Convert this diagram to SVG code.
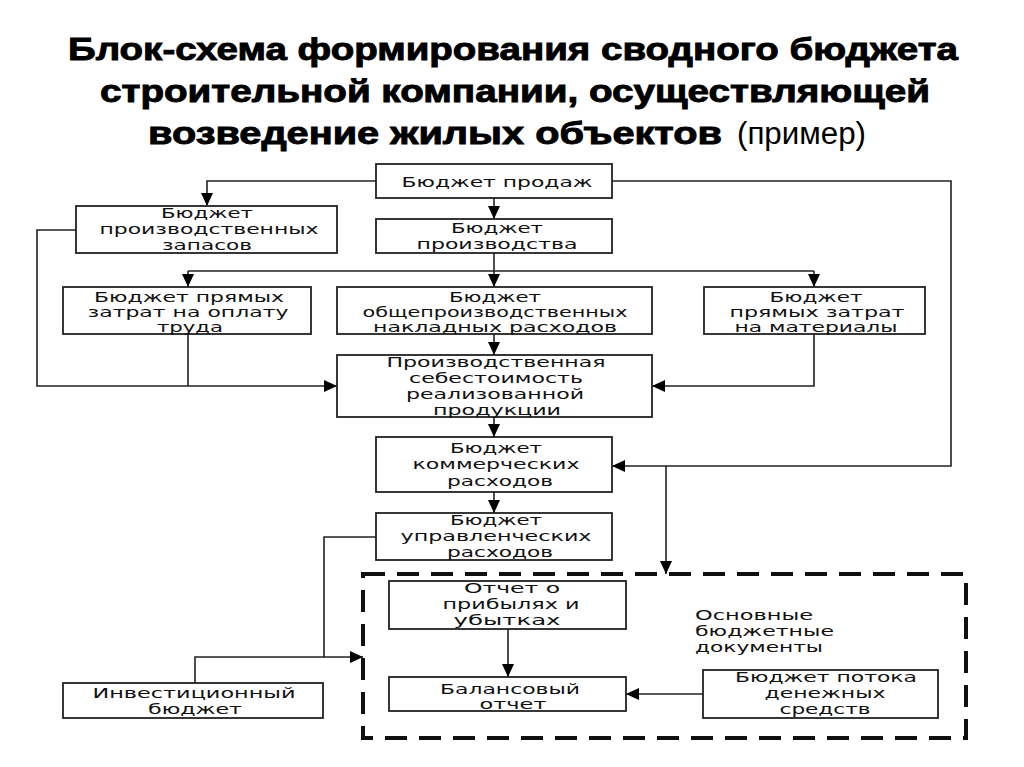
<svg xmlns="http://www.w3.org/2000/svg" width="1024" height="767" viewBox="0 0 1024 767">
<style>
.bg{fill:#fff}
.box{fill:#fff;stroke:#222;stroke-width:1.8}
.t{font-family:"DejaVu Sans",Verdana,sans-serif;font-size:14px;fill:#111;text-anchor:middle}
.tl{font-family:"DejaVu Sans",Verdana,sans-serif;font-size:14px;fill:#111}
.ttl{font-family:"Liberation Sans",Arial,sans-serif;font-size:31px;font-weight:bold;fill:#000;stroke:#000;stroke-width:0.9}
.ttn{font-family:"Liberation Sans",Arial,sans-serif;font-size:31px;fill:#000}
.c{fill:none;stroke:#222;stroke-width:1.6}
.a{marker-end:url(#ah)}
.dash{fill:none;stroke:#111;stroke-width:4;stroke-dasharray:22 12}
</style>
<defs>
<marker id="ah" markerUnits="userSpaceOnUse" markerWidth="14" markerHeight="14" viewBox="0 0 14 14" refX="13" refY="7" orient="auto">
<path d="M0,1 L13,7 L0,13 Z" fill="#000"/>
</marker>
</defs>
<rect class="bg" width="1024" height="767"/>
<g id="title">
<text class="ttl" x="513" y="60" text-anchor="middle" textLength="890" lengthAdjust="spacingAndGlyphs">Блок-схема формирования сводного бюджета</text>
<text class="ttl" x="515" y="102" text-anchor="middle" textLength="830" lengthAdjust="spacingAndGlyphs">строительной компании, осуществляющей</text>
<text class="ttl" x="148" y="144" textLength="574" lengthAdjust="spacingAndGlyphs">возведение жилых объектов</text>
<text class="ttn" x="737" y="144" textLength="129" lengthAdjust="spacingAndGlyphs">(пример)</text>
</g>
<g id="connectors">
<path class="c a" d="M376,181 H207 V206"/>
<path class="c a" d="M494,198 V219"/>
<path class="c a" d="M612,181 H951 V466 H612"/>
<path class="c a" d="M494,253 V287"/>
<path class="c" d="M188,271 H814"/>
<path class="c a" d="M188,271 V287"/>
<path class="c a" d="M814,271 V287"/>
<path class="c a" d="M76,230 H37 V386 H337"/>
<path class="c" d="M188,334 V386"/>
<path class="c a" d="M494,334 V355"/>
<path class="c a" d="M814,334 V386 H652"/>
<path class="c a" d="M494,417 V437"/>
<path class="c a" d="M494,492 V513"/>
<path class="c a" d="M666,466 V574"/>
<path class="c a" d="M376,537 H324 V657 H363"/>
<path class="c" d="M195,683 V657 H324"/>
<path class="c a" d="M508,629 V677"/>
<path class="c a" d="M703,694 H626"/>
</g>
<g id="docs-frame">
<rect class="dash" x="363" y="574" width="603" height="164"/>
<text class="tl" x="695" y="620" textLength="118" lengthAdjust="spacingAndGlyphs">Основные</text>
<text class="tl" x="695" y="636" textLength="139" lengthAdjust="spacingAndGlyphs">бюджетные</text>
<text class="tl" x="695" y="652" textLength="128" lengthAdjust="spacingAndGlyphs">документы</text>
</g>
<g id="sales">
<rect class="box" x="376" y="164" width="236" height="34"/>
<text class="t" x="497" y="187" textLength="191" lengthAdjust="spacingAndGlyphs">Бюджет продаж</text>
</g>
<g id="inventory">
<rect class="box" x="76" y="206" width="261" height="47"/>
<text class="t" x="207" y="218" textLength="92" lengthAdjust="spacingAndGlyphs">Бюджет</text>
<text class="t" x="209" y="234" textLength="219" lengthAdjust="spacingAndGlyphs">производственных</text>
<text class="t" x="207" y="250" textLength="90" lengthAdjust="spacingAndGlyphs">запасов</text>
</g>
<g id="production">
<rect class="box" x="376" y="219" width="236" height="34"/>
<text class="t" x="497" y="233" textLength="92" lengthAdjust="spacingAndGlyphs">Бюджет</text>
<text class="t" x="497" y="249" textLength="161" lengthAdjust="spacingAndGlyphs">производства</text>
</g>
<g id="labor">
<rect class="box" x="63" y="287" width="248" height="47"/>
<text class="t" x="189" y="302" textLength="190" lengthAdjust="spacingAndGlyphs">Бюджет прямых</text>
<text class="t" x="188" y="317" textLength="201" lengthAdjust="spacingAndGlyphs">затрат на оплату</text>
<text class="t" x="190" y="332" textLength="66" lengthAdjust="spacingAndGlyphs">труда</text>
</g>
<g id="overhead">
<rect class="box" x="337" y="287" width="315" height="47"/>
<text class="t" x="495" y="302" textLength="92" lengthAdjust="spacingAndGlyphs">Бюджет</text>
<text class="t" x="495" y="317" textLength="265" lengthAdjust="spacingAndGlyphs">общепроизводственных</text>
<text class="t" x="495" y="332" textLength="244" lengthAdjust="spacingAndGlyphs">накладных расходов</text>
</g>
<g id="materials">
<rect class="box" x="704" y="287" width="221" height="47"/>
<text class="t" x="816" y="302" textLength="93" lengthAdjust="spacingAndGlyphs">Бюджет</text>
<text class="t" x="817" y="317" textLength="175" lengthAdjust="spacingAndGlyphs">прямых затрат</text>
<text class="t" x="816" y="332" textLength="163" lengthAdjust="spacingAndGlyphs">на материалы</text>
</g>
<g id="cost">
<rect class="box" x="337" y="355" width="315" height="62"/>
<text class="t" x="496" y="367" textLength="219" lengthAdjust="spacingAndGlyphs">Производственная</text>
<text class="t" x="496" y="383" textLength="174" lengthAdjust="spacingAndGlyphs">себестоимость</text>
<text class="t" x="495" y="399" textLength="178" lengthAdjust="spacingAndGlyphs">реализованной</text>
<text class="t" x="497" y="415" textLength="128" lengthAdjust="spacingAndGlyphs">продукции</text>
</g>
<g id="commercial">
<rect class="box" x="376" y="437" width="236" height="55"/>
<text class="t" x="496" y="453" textLength="92" lengthAdjust="spacingAndGlyphs">Бюджет</text>
<text class="t" x="496" y="469" textLength="167" lengthAdjust="spacingAndGlyphs">коммерческих</text>
<text class="t" x="500" y="486" textLength="106" lengthAdjust="spacingAndGlyphs">расходов</text>
</g>
<g id="admin">
<rect class="box" x="376" y="513" width="236" height="47"/>
<text class="t" x="496" y="525" textLength="92" lengthAdjust="spacingAndGlyphs">Бюджет</text>
<text class="t" x="496" y="541" textLength="191" lengthAdjust="spacingAndGlyphs">управленческих</text>
<text class="t" x="500" y="557" textLength="106" lengthAdjust="spacingAndGlyphs">расходов</text>
</g>
<g id="pnl">
<rect class="box" x="389" y="581" width="237" height="48"/>
<text class="t" x="512" y="593" textLength="96" lengthAdjust="spacingAndGlyphs">Отчет о</text>
<text class="t" x="511" y="609" textLength="137" lengthAdjust="spacingAndGlyphs">прибылях и</text>
<text class="t" x="507" y="625" textLength="107" lengthAdjust="spacingAndGlyphs">убытках</text>
</g>
<g id="balance">
<rect class="box" x="389" y="677" width="237" height="34"/>
<text class="t" x="510" y="694" textLength="140" lengthAdjust="spacingAndGlyphs">Балансовый</text>
<text class="t" x="513" y="709" textLength="67" lengthAdjust="spacingAndGlyphs">отчет</text>
</g>
<g id="cashflow">
<rect class="box" x="703" y="670" width="235" height="48"/>
<text class="t" x="826" y="682" textLength="182" lengthAdjust="spacingAndGlyphs">Бюджет потока</text>
<text class="t" x="825" y="698" textLength="121" lengthAdjust="spacingAndGlyphs">денежных</text>
<text class="t" x="825" y="714" textLength="91" lengthAdjust="spacingAndGlyphs">средств</text>
</g>
<g id="investment">
<rect class="box" x="63" y="683" width="260" height="35"/>
<text class="t" x="194" y="698" textLength="203" lengthAdjust="spacingAndGlyphs">Инвестиционный</text>
<text class="t" x="195" y="714" textLength="94" lengthAdjust="spacingAndGlyphs">бюджет</text>
</g>
</svg>
